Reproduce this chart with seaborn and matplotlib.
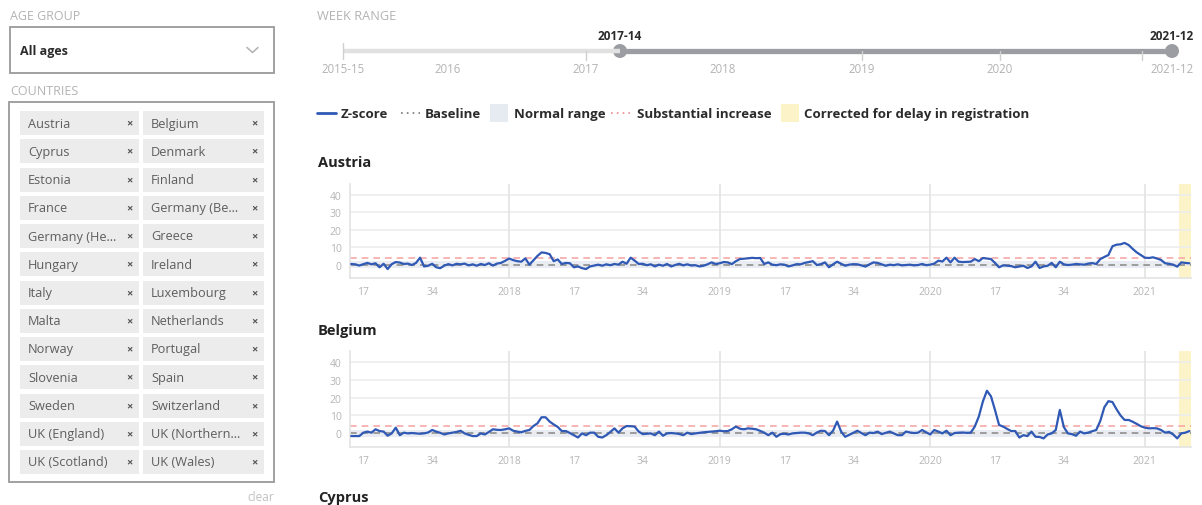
import numpy as np
import pandas as pd
import seaborn as sns
import matplotlib.pyplot as plt
from matplotlib.patches import Rectangle, Circle

# ---- data -------------------------------------------------------------
# weeks shown: 2017-14 .. 2021-12
years = [2017, 2018, 2019, 2020, 2021]
first_week = [14, 1, 1, 1, 1]
last_week = [52, 52, 52, 53, 12]

austria = [
    0.4, 0.2, -0.5, 0.3, 1.0, 0.2, 0.8, -1.5, 0.5, -2.5,
    0.3, 1.5, 1.2, 0.4, 0.6, -0.2, 1.0, 4.0, -1.0, -0.6,
    0.5, -1.5, -2.0, -0.5, 0.3, -0.4, 0.5, 0.2, 0.6, -0.4,
    0.2, -0.6, 0.4, -0.2, 0.8, -0.5, 0.6, 1.0, 2.2, 3.5,
    2.6, 2.0, 1.7, 3.6, 0.0, 2.5, 5.0, 7.0, 6.7, 6.0,
    2.0, 3.0, 0.4, 1.0, 0.8, -1.5, -1.0, -2.0, -2.5, -1.0,
    -0.5, 0.0, -0.6, 0.2, -0.3, 0.4, 0.0, 1.7, 0.5, 4.0,
    2.3, 0.4, 0.5, -0.3, 0.2, -1.0, 0.0, -0.6, 0.4, -1.0,
    -0.2, 0.5, -0.4, 0.2, -0.5, -0.3, -1.0, -0.6, 0.2, 1.3,
    0.4, 0.8, 1.5, 1.3, 0.3, 2.0, 3.2, 3.4, 3.6, 3.9,
    3.7, 3.8, 0.4, 1.3, 0.0, -0.3, 0.2, 0.0, -1.0, -0.4,
    0.3, 0.2, 1.0, 1.5, 2.0, -0.2, 0.3, 1.3, -1.5, 0.2,
    1.7, 0.5, -0.6, 0.0, 0.3, 0.2, -0.4, -1.1, 0.2, 1.3,
    1.0, 0.2, -0.6, 0.0, -0.3, 0.2, -0.4, -0.2, 0.0, -0.4,
    -0.2, 0.4, -0.3, 0.0, 0.6, 2.3, 1.8, 4.0, 1.3, 4.0,
    1.7, 1.5, 1.6, 1.7, 3.2, 2.0, 3.8, 3.5, 3.2, 1.0,
    -1.5, -0.4, -0.6, -0.8, -1.5, -1.0, -0.6, -1.9, -1.0, 1.7,
    -1.9, -1.0, -0.6, 1.0, -1.5, 1.7, 0.2, -0.2, 0.0, 0.4,
    0.2, 0.0, 0.6, 0.9, 0.4, 3.2, 4.4, 5.5, 10.5, 11.4,
    11.6, 12.4, 11.2, 9.0, 7.0, 5.5, 4.0, 3.8, 4.2, 3.5,
    2.7, 0.8, 0.5, 0.0, -1.1, 1.3, 1.0, 0.8,
]

belgium = [
    -1.5, -1.5, -1.5, 0.4, 1.0, 0.4, 2.3, 1.3, 1.0, -1.3,
    0.0, 3.2, -1.0, 0.4, 0.0, 0.2, 0.0, -0.2, 0.0, 0.5,
    1.9, 1.0, 0.3, -0.6, 0.0, 0.4, 0.8, 1.5, 0.0, -0.8,
    -1.5, -1.5, 0.0, -0.6, 0.8, 2.3, 2.0, 1.9, 2.3, 2.8,
    1.5, 1.0, 0.6, 1.4, 1.9, 4.1, 5.6, 9.0, 9.0, 6.6,
    5.0, 3.6, 1.3, 1.3, 0.2, -1.0, -2.3, 0.0, -1.0, 0.4,
    0.4, -1.9, -2.3, -1.0, 0.8, 2.8, 0.4, 2.8, 4.1, 4.0,
    3.8, 1.0, -0.4, -0.2, 0.0, -1.0, 1.0, -1.3, 0.0, 0.2,
    0.0, -0.3, -1.0, 0.4, -0.4, 0.0, 0.3, 0.6, 0.8, 1.0,
    1.2, 1.5, 1.2, 1.3, 2.3, 3.8, 2.6, 2.3, 2.8, 2.6,
    2.3, 1.4, 0.4, -1.0, 0.4, -1.9, -0.4, -0.2, -0.6, 0.0,
    0.2, 0.4, 0.4, 0.0, -1.0, 0.5, 1.5, 1.3, -1.0, 1.5,
    6.6, 1.0, -1.9, -0.8, 0.3, 1.5, 0.2, -1.0, 0.4, 0.2,
    1.0, -0.4, 0.3, 1.0, 0.0, -1.0, -1.0, 1.0, 0.5, 0.2,
    0.4, 1.9, 0.6, -0.6, 1.9, 1.0, 0.0, 1.5, -1.0, 0.2,
    0.4, 0.5, 0.3, 0.4, 3.8, 9.4, 17.8, 23.8, 20.7, 13.0,
    4.7, 3.8, 2.5, 1.3, 1.3, -2.3, -1.0, -1.5, 1.0, -1.9,
    -2.0, -2.8, -0.6, 0.0, 1.9, 13.1, 3.5, 0.0, -0.4, -1.3,
    1.0, 0.0, 0.4, 1.2, 1.9, 7.0, 14.6, 18.0, 17.5, 13.5,
    10.0, 7.5, 7.5, 6.5, 5.3, 4.0, 3.2, 2.8, 2.9, 2.8,
    1.9, 0.4, 0.8, -0.6, -2.8, 0.0, 0.4, 1.3,
]

baseline = 0
normal_range = (-2, 2)
substantial_increase = 4
corrected_weeks = 3
y_ticks = [0, 10, 20, 30, 40]

countries_col1 = ["Austria", "Cyprus", "Estonia", "France", "Germany (He\u2026",
                  "Hungary", "Italy", "Malta", "Norway", "Slovenia", "Sweden",
                  "UK (England)", "UK (Scotland)"]
countries_col2 = ["Belgium", "Denmark", "Finland", "Germany (Be\u2026", "Greece",
                  "Ireland", "Luxembourg", "Netherlands", "Portugal", "Spain",
                  "Switzerland", "UK (Northern\u2026", "UK (Wales)"]
slider_labels = ["2015-15", "2016", "2017", "2018", "2019", "2020", "2021-12"]
slider_from, slider_to = "2017-14", "2021-12"
legend_labels = ["Z-score", "Baseline", "Normal range", "Substantial increase",
                 "Corrected for delay in registration"]

# ---- frame ------------------------------------------------------------
rows = []
for y, a, b in zip(years, first_week, last_week):
    for w in range(a, b + 1):
        rows.append((y, w))
df = pd.DataFrame(rows, columns=["year", "week"])
df["idx"] = np.arange(len(df))
df["Austria"] = austria
df["Belgium"] = belgium
long = df.melt(id_vars=["idx", "year", "week"], value_vars=["Austria", "Belgium"],
               var_name="country", value_name="z")
n = len(df)

sns.set_style("white")
plt.rcParams["font.family"] = ["Open Sans", "DejaVu Sans"]

BLUE = "#2f59b5"
DARK = "#2b2b2b"
GREY_TXT = "#b3b3b3"

W, H = 1202, 506
fig = plt.figure(figsize=(W / 100, H / 100), dpi=100)

# overlay axes in pixel coordinates for the page furniture
ui = fig.add_axes([0, 0, 1, 1])
ui.set_xlim(0, W)
ui.set_ylim(H, 0)
ui.axis("off")

def txt(x, y, s, size=9, color=DARK, weight="normal", ha="left"):
    ui.text(x, y, s, fontsize=size, color=color, fontweight=weight,
            ha=ha, va="center")

# left panel
txt(10, 16, "AGE GROUP", 9, GREY_TXT)
ui.add_patch(Rectangle((10, 28), 264, 46, fc="white", ec="#9a9a9a", lw=1.3))
txt(20, 51, "All ages", 9, DARK, "bold")
ui.plot([247, 252.5, 258], [48.5, 53.5, 48.5], color="#b0b0b0", lw=1.1)
txt(10, 91, "COUNTRIES", 9, GREY_TXT)
ui.add_patch(Rectangle((9, 103), 265, 380, fc="white", ec="#9a9a9a", lw=1.3))
for k, (c1, c2) in enumerate(zip(countries_col1, countries_col2)):
    top = 112 + k * 28.25
    cy = top + 12
    ui.add_patch(Rectangle((20, top), 119, 24, fc="#ececec", ec="none"))
    ui.add_patch(Rectangle((143, top), 121, 24, fc="#ececec", ec="none"))
    txt(28, cy, c1, 9.2, "#5e5e5e")
    txt(151, cy, c2, 9.2, "#5e5e5e")
    txt(129, cy, "\u00d7", 8, "#555555", "bold", "center")
    txt(254, cy, "\u00d7", 8, "#555555", "bold", "center")
txt(274, 498, "clear", 8.5, "#c0c0c0", ha="right")

# week range slider
txt(317, 16, "WEEK RANGE", 9.2, GREY_TXT)
ui.plot([343, 620], [52, 52], color="#e1e1e1", lw=3.2, solid_capstyle="butt")
ui.plot([620, 1172], [52, 52], color="#9b9da2", lw=3.8, solid_capstyle="butt")
ui.plot([343, 343], [44, 60], color="#d0d0d0", lw=1)
for xt in [586, 862, 1000, 1142]:
    ui.plot([xt, xt], [52, 61], color="#d0d0d0", lw=1)
for xc in [620, 1172]:
    ui.add_patch(Circle((xc, 52), 7, fc="#9b9da2", ec="none"))
txt(620, 36, slider_from, 8.5, DARK, "bold", "center")
txt(1172, 36, slider_to, 8.5, DARK, "bold", "center")
for xl, lab in zip([343, 448, 586, 723, 862, 1000, 1172], slider_labels):
    txt(xl, 69, lab, 8.3, GREY_TXT, ha="center")

# legend row
ui.plot([317, 336], [114, 114], color=BLUE, lw=2)
txt(341, 114, legend_labels[0], 9.5, DARK, "bold")
ui.plot([401, 420], [114, 114], color="#777777", lw=1.2, ls=(0, (1, 2.5)))
txt(425, 114, legend_labels[1], 9.5, DARK, "bold")
ui.add_patch(Rectangle((490, 105), 18, 18, fc="#e6ebf1", ec="none"))
txt(514, 114, legend_labels[2], 9.5, DARK, "bold")
ui.plot([611, 630], [114, 114], color="#f08a8a", lw=1.2, ls=(0, (1, 2.5)))
txt(637, 114, legend_labels[3], 9.5, DARK, "bold")
ui.add_patch(Rectangle((781, 105), 18, 18, fc="#fcf3c9", ec="none"))
txt(804, 114, legend_labels[4], 9.5, DARK, "bold")

# country titles
for ytitle, name in [(163, "Austria"), (331, "Belgium"), (498, "Cyprus")]:
    txt(318, ytitle, name, 10.5, "#222222", "bold")

# ---- small multiples --------------------------------------------------
tick_rows = df[df["week"].isin([1, 17, 34])]
tick_pos = tick_rows["idx"].tolist()
tick_lab = [str(y) if w == 1 else str(w) for y, w in zip(tick_rows["year"], tick_rows["week"])]
year_pos = df.loc[df["week"] == 1, "idx"].tolist()

panels = [("Austria", 185, 279), ("Belgium", 352, 448)]
for name, top, bottom in panels:
    ax = fig.add_axes([350 / W, 1 - bottom / H, 841 / W, (bottom - top) / H])
    ax.patch.set_alpha(0)
    ax.axhspan(*normal_range, color="#e9edf3", zorder=0, lw=0)
    ax.axvspan(n - corrected_weeks - 0.5, n + 1, color="#fcf3c9", zorder=0, lw=0)
    for yt in y_ticks:
        ax.axhline(yt, color="#ececec", lw=1.2, zorder=0.5)
    for xp in year_pos:
        ax.axvline(xp, color="#e3e3e3", lw=1.2, zorder=0.5)
    ax.axhline(baseline, color="#8f8f8f", lw=1.2, ls=(0, (4, 3)), zorder=1)
    ax.axhline(substantial_increase, color="#f6a9a9", lw=1.2, ls=(0, (4, 3)), zorder=1)
    sns.lineplot(data=long[long["country"] == name], x="idx", y="z", ax=ax,
                 color=BLUE, lw=1.6, zorder=3)
    ax.set_xlim(-0.3, n - 0.6)
    ax.set_ylim(-7.6, 46)
    ax.set_yticks(y_ticks)
    ax.set_xticks(tick_pos)
    ax.set_xticklabels(tick_lab)
    ax.set_xlabel("")
    ax.set_ylabel("")
    ax.tick_params(axis="both", labelsize=7.5, labelcolor="#b5b5b5",
                   color="#dddddd", length=3, width=1, pad=3)
    for side in ["top", "right"]:
        ax.spines[side].set_visible(False)
    for side in ["left", "bottom"]:
        ax.spines[side].set_color("#e3e3e3")
        ax.spines[side].set_linewidth(1.2)

fig.savefig("out.png", dpi=100)
